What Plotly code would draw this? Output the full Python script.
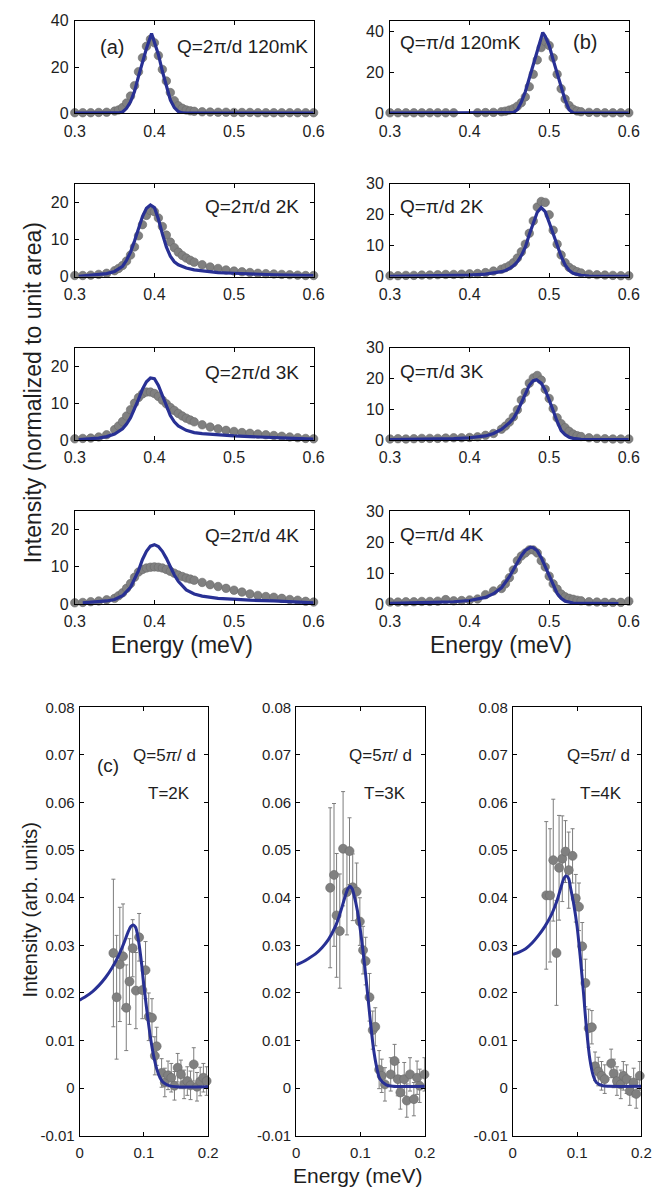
import plotly.graph_objects as go

W, H = 663, 1197
FONT = "Liberation Sans, Arial, Helvetica, sans-serif"
TXT = "#1e1e1e"
GRAY = "rgb(128,128,128)"
BLUE = "rgb(40,48,148)"

# ---------------- top panels (a) / (b) : data ----------------
E_A = [0.30, 0.31, 0.32, 0.33, 0.34, 0.35, 0.355, 0.36, 0.365, 0.37,
       0.375, 0.38, 0.385, 0.39, 0.395, 0.40, 0.405, 0.41, 0.415, 0.42,
       0.425, 0.43, 0.435, 0.44, 0.445, 0.45, 0.46, 0.47, 0.48, 0.49,
       0.50, 0.51, 0.52, 0.53, 0.54, 0.55, 0.56, 0.57, 0.58, 0.59, 0.60]
E_B = [0.30, 0.31, 0.32, 0.33, 0.34, 0.35, 0.36, 0.37, 0.38, 0.39,
       0.40, 0.41, 0.42, 0.43, 0.44, 0.445, 0.45, 0.455, 0.46, 0.465,
       0.47, 0.475, 0.48, 0.485, 0.49, 0.495, 0.50, 0.505, 0.51, 0.515,
       0.52, 0.525, 0.53, 0.535, 0.54, 0.55, 0.56, 0.57, 0.58, 0.59, 0.60]

PTS_A1 = [0.3, 0.3, 0.3, 0.4, 0.5, 1.0, 1.5, 2.5, 4.5, 7.5,
          12, 18, 24, 29, 32, 30.5, 25, 19, 14, 9,
          5.5, 3.3, 2.2, 1.5, 1.1, 0.9, 0.7, 0.6, 0.5, 0.5,
          0.4, 0.4, 0.4, 0.3, 0.3, 0.3, 0.3, 0.3, 0.3, 0.3, 0.3]
PTS_A2 = [0.3, 0.3, 0.4, 0.6, 0.9, 1.6, 2.2, 3.0, 4.2, 5.8,
          8.0, 11, 14, 16.5, 17.8, 17.5, 15.8, 13.5, 11.2, 9.3,
          7.8, 6.6, 5.7, 5.0, 4.4, 3.9, 3.2, 2.6, 2.2, 1.8,
          1.5, 1.3, 1.1, 0.9, 0.8, 0.7, 0.6, 0.5, 0.4, 0.3, 0.3]
PTS_A3 = [0.3, 0.4, 0.5, 0.8, 1.4, 2.8, 3.8, 5.0, 6.5, 8.2,
          10, 11.5, 12.5, 13, 13, 12.6, 11.8, 10.8, 9.8, 8.8,
          8.0, 7.2, 6.5, 5.9, 5.4, 4.9, 4.1, 3.5, 3.0, 2.6,
          2.3, 2.0, 1.8, 1.6, 1.4, 1.2, 1.0, 0.8, 0.6, 0.4, 0.3]
PTS_A4 = [0.3, 0.4, 0.6, 0.8, 1.1, 1.5, 2.2, 3.0, 4.2, 5.5,
          7.2, 8.6, 9.3, 9.7, 9.9, 10, 9.9, 9.7, 9.3, 8.8,
          8.3, 7.8, 7.4, 7.0, 6.7, 6.4, 5.8, 5.2, 4.7, 4.2,
          3.7, 3.2, 2.7, 2.3, 2.0, 1.8, 1.5, 1.2, 1.0, 0.7, 0.5]
PTS_B1 = [0.3, 0.3, 0.3, 0.3, 0.3, 0.3, 0.3, 0.3, 0.3, None,
          None, 0.3, 0.4, 0.5, 0.8, 1.1, 1.6, 2.3, 3.5, 5.2,
          8, 13, 19, 26, 32, 35, 33, 27, 19, 12,
          7, 3.8, 2.0, 1.2, 0.8, 0.5, 0.4, 0.3, 0.3, 0.3, 0.3]
PTS_B2 = [0.3, 0.3, 0.4, 0.4, 0.5, 0.5, 0.6, 0.7, 0.7, 0.8,
          0.9, 1.0, 1.3, 1.8, 2.4, 2.9, 3.5, 4.5, 6.0, 8.0,
          10.5, 14, 18, 22.5, 24.3, 24, 20, 15, 10.5, 7,
          4.5, 3.0, 2.2, 1.6, 1.2, 0.8, 0.6, 0.5, 0.4, 0.3, 0.3]
PTS_B3 = [0.3, 0.4, 0.3, 0.4, 0.5, 0.5, 0.5, 0.6, 0.7, 0.7,
          0.8, 1.0, 1.5, 2.1, 3.5, 4.5, 5.8, 7.5, 9.8, 13,
          15.5, 18.5, 20.2, 21, 19.5, 16.5, 13.5, 10.2, 7.2, 5.3,
          4.0, 2.8, 1.9, 1.4, 1.1, 0.7, 0.5, 0.4, 0.3, 0.3, 0.3]
PTS_B4 = [0.6, 0.6, 0.7, 0.7, 0.8, 0.8, 0.9, 1.4, 1.0, 1.1,
          1.3, 1.6, 3.0, 4.2, 5.0, 6.5, 8.5, 11, 14, 15.5,
          16.5, 17.5, 17.5, 16.5, 14, 12, 9, 6.5, 4.8, 3.2,
          2.3, 1.8, 1.5, 1.2, 1.0, 0.7, 0.6, 0.5, 0.5, 0.5, 0.9]

LINE_A1_E = [0.30, 0.35, 0.355, 0.36, 0.365, 0.37, 0.375, 0.38, 0.385, 0.39, 0.3964,
             0.40, 0.405, 0.41, 0.415, 0.42, 0.425, 0.43, 0.435, 0.44, 0.60]
LINE_A1_I = [0.1, 0.1, 0.2, 0.6, 2.2, 5.0, 9.5, 16, 22.5, 28, 34.5,
             31, 25.5, 18.2, 11.5, 5.8, 2.5, 0.8, 0.2, 0.1, 0.1]
LINE_A2_E = [0.305, 0.31, 0.32, 0.33, 0.34, 0.35, 0.36, 0.365, 0.37, 0.375, 0.38, 0.385, 0.39,
             0.395, 0.40, 0.405, 0.41, 0.415, 0.42, 0.425, 0.43, 0.44, 0.45, 0.46, 0.48,
             0.50, 0.52, 0.55, 0.60]
LINE_A2_I = [0.1, 0.2, 0.3, 0.5, 0.8, 1.4, 2.8, 4.4, 6.6, 9.6, 13, 16.2, 18.4,
             19.3, 18.6, 15.5, 11.5, 8.0, 5.5, 4.0, 3.2, 2.3, 1.8, 1.5, 1.1,
             0.9, 0.7, 0.5, 0.3]
LINE_A3_E = [0.305, 0.32, 0.33, 0.34, 0.35, 0.36, 0.365, 0.37, 0.375, 0.38, 0.385, 0.39, 0.395,
             0.40, 0.405, 0.41, 0.415, 0.42, 0.425, 0.43, 0.44, 0.45, 0.46, 0.48, 0.50,
             0.52, 0.55, 0.58, 0.60]
LINE_A3_I = [0.1, 0.3, 0.5, 0.9, 1.6, 3.0, 4.3, 6.0, 8.3, 11, 13.8, 15.8, 16.8,
             16.6, 14.8, 12, 9.0, 6.6, 4.9, 3.8, 2.6, 2.0, 1.7, 1.3, 1.1,
             0.9, 0.7, 0.4, 0.2]
LINE_A4_E = [0.31, 0.32, 0.33, 0.34, 0.35, 0.36, 0.37, 0.375, 0.38, 0.385, 0.39, 0.395, 0.40,
             0.405, 0.41, 0.415, 0.42, 0.425, 0.43, 0.44, 0.45, 0.46, 0.48, 0.50, 0.52,
             0.55, 0.58, 0.60]
LINE_A4_I = [0.3, 0.4, 0.6, 0.8, 1.2, 2.2, 4.5, 6.8, 9.0, 12, 14.2, 15.6, 16,
             15.5, 14.2, 12.3, 10, 7.8, 6.1, 3.8, 2.7, 2.1, 1.5, 1.2, 1.0,
             0.8, 0.5, 0.3]
LINE_B1_E = [0.30, 0.45, 0.455, 0.46, 0.465, 0.47, 0.475, 0.48, 0.485, 0.4919,
             0.495, 0.50, 0.505, 0.51, 0.515, 0.52, 0.525, 0.53, 0.54, 0.60]
LINE_B1_I = [0.1, 0.1, 0.4, 1.8, 5.5, 10.5, 17, 24.5, 31, 39.3,
             37.5, 33, 26, 19.5, 12.5, 6.5, 1.8, 0.3, 0.1, 0.1]
LINE_B2_E = [0.30, 0.35, 0.38, 0.40, 0.42, 0.43, 0.44, 0.445, 0.45, 0.455, 0.46, 0.465, 0.47,
             0.475, 0.48, 0.485, 0.49, 0.495, 0.50, 0.505, 0.51, 0.515, 0.52, 0.525, 0.53,
             0.54, 0.55, 0.60]
LINE_B2_I = [0.1, 0.2, 0.3, 0.5, 0.8, 1.1, 1.6, 2.0, 2.6, 3.5, 4.8, 6.8, 9.5,
             13.6, 17.5, 20.8, 22.3, 21, 17.5, 13.8, 10, 6.6, 3.8, 2.0, 1.1,
             0.4, 0.2, 0.1]
LINE_B3_E = [0.30, 0.35, 0.38, 0.40, 0.42, 0.43, 0.44, 0.45, 0.455, 0.46, 0.465, 0.47, 0.475,
             0.48, 0.484, 0.49, 0.495, 0.50, 0.505, 0.51, 0.515, 0.52, 0.525, 0.53, 0.54, 0.60]
LINE_B3_I = [0.1, 0.2, 0.4, 0.7, 1.3, 2.1, 3.4, 5.6, 7.0, 9.2, 12, 15.2, 17.8,
             19.3, 19.6, 18.5, 16.2, 13, 9.3, 6.0, 3.0, 1.7, 0.9, 0.5, 0.2, 0.1]
LINE_B4_E = [0.30, 0.35, 0.38, 0.40, 0.41, 0.42, 0.43, 0.44, 0.45, 0.455, 0.46, 0.465, 0.47,
             0.4765, 0.48, 0.485, 0.49, 0.495, 0.50, 0.505, 0.51, 0.515, 0.52, 0.53, 0.55, 0.587]
LINE_B4_I = [0.2, 0.4, 0.7, 1.1, 1.5, 2.1, 3.3, 5.2, 8.8, 11, 13.5, 15.6, 17.3,
             18.4, 18.2, 17.2, 15, 12, 8.8, 5.8, 3.4, 1.8, 0.9, 0.3, 0.15, 0.1]

LABELS_TOP = ["Q=2π/d 120mK", "Q=π/d 120mK", "Q=2π/d 2K", "Q=π/d 2K",
              "Q=2π/d 3K", "Q=π/d 3K", "Q=2π/d 4K", "Q=π/d 4K"]
X_TICKS_TOP = [0.3, 0.4, 0.5, 0.6]
X_TICKTEXT_TOP = ["0.3", "0.4", "0.5", "0.6"]

# ---------------- bottom panels (c) : data ----------------
E_C1 = [0.0525, 0.0575, 0.0625, 0.0675, 0.0725, 0.0775, 0.0825, 0.0875, 0.0925, 0.0975,
        0.1025, 0.1075, 0.1125, 0.117, 0.1198, 0.1275, 0.1325, 0.1375, 0.1425, 0.1475,
        0.1525, 0.1575, 0.1625, 0.1675, 0.1725, 0.1775, 0.1825, 0.1875, 0.1925, 0.1975]
I_C1 = [0.0284, 0.0191, 0.0260, 0.0277, 0.0169, 0.0224, 0.0294, 0.0205, 0.0317, 0.0206,
        0.0248, 0.0150, 0.0148, 0.0068, 0.0088, 0.0032, 0.0012, 0.0027, 0.0022, 0.0005,
        0.0043, 0.0029, 0.0008, 0.0015, 0.0006, 0.0050, 0.0003, 0.0014, 0.0022, 0.0015]
ERR_C1 = [0.0155, 0.013, 0.012, 0.011, 0.009, 0.009, 0.006, 0.008, 0.005, 0.006,
          0.006, 0.005, 0.004, 0.004, 0.004, 0.003, 0.003, 0.003, 0.003, 0.003,
          0.003, 0.003, 0.003, 0.003, 0.003, 0.0035, 0.003, 0.003, 0.003, 0.003]
E_C2 = [0.0528, 0.0588, 0.0628, 0.0678, 0.0729, 0.0789, 0.0829, 0.0879, 0.094, 0.099,
        0.104, 0.108, 0.114, 0.119, 0.123, 0.129, 0.133, 0.138, 0.147, 0.153,
        0.158, 0.162, 0.168, 0.172, 0.177, 0.183, 0.188, 0.192, 0.1995]
I_C2 = [0.0421, 0.0448, 0.0363, 0.0330, 0.0503, 0.0412, 0.0498, 0.0422, 0.0413, 0.0350,
        0.0290, 0.0267, 0.0191, 0.0122, 0.0129, 0.0039, 0.0026, 0.0008, 0.0029, 0.0057,
        0.0019, -0.0009, 0.0019, -0.0026, 0.0029, -0.0023, 0.0022, 0.0005, 0.0029]
ERR_C2 = [0.0168, 0.015, 0.013, 0.012, 0.012, 0.009, 0.007, 0.007, 0.006, 0.005,
          0.005, 0.005, 0.005, 0.004, 0.004, 0.004, 0.0035, 0.0035, 0.0035, 0.0035,
          0.0035, 0.0035, 0.0035, 0.0035, 0.0035, 0.0035, 0.0035, 0.0035, 0.0035]
E_C3 = [0.0521, 0.058, 0.063, 0.068, 0.072, 0.077, 0.082, 0.087, 0.093, 0.098,
        0.103, 0.108, 0.113, 0.118, 0.123, 0.128, 0.133, 0.138, 0.143, 0.153,
        0.157, 0.162, 0.168, 0.172, 0.177, 0.182, 0.188, 0.192, 0.1975]
I_C3 = [0.0405, 0.0405, 0.0479, 0.0284, 0.0463, 0.0482, 0.0497, 0.0458, 0.0488, 0.0399,
        0.0381, 0.0298, 0.0221, 0.0126, 0.0128, 0.0046, 0.0035, 0.0026, 0.0019, 0.0052,
        0.0031, 0.0015, 0.0008, 0.0026, 0.0019, -0.0006, 0.0012, -0.0012, 0.0026]
ERR_C3 = [0.0155, 0.014, 0.0128, 0.011, 0.011, 0.009, 0.0065, 0.008, 0.0057, 0.005,
          0.005, 0.005, 0.005, 0.004, 0.0035, 0.003, 0.003, 0.003, 0.003, 0.003,
          0.003, 0.003, 0.003, 0.003, 0.003, 0.003, 0.003, 0.003, 0.003]

FIT_C_E = [0.0, 0.01, 0.02, 0.03, 0.04, 0.05, 0.06, 0.065, 0.07, 0.075, 0.08, 0.0835,
           0.087, 0.09, 0.095, 0.10, 0.105, 0.11, 0.115, 0.12, 0.125, 0.13, 0.14, 0.15, 0.20]
FIT_C1 = [0.0185, 0.0193, 0.0203, 0.0216, 0.0232, 0.0252, 0.0277, 0.0292, 0.0309, 0.0327,
          0.0340, 0.0343, 0.0338, 0.0322, 0.0277, 0.0215, 0.0158, 0.0108, 0.0068, 0.0040,
          0.0022, 0.0012, 0.0005, 0.0003, 0.0003]
FIT_C2 = [0.0259, 0.0265, 0.0273, 0.0282, 0.0295, 0.0312, 0.0337, 0.0354, 0.0375, 0.0398,
          0.0418, 0.0424, 0.0419, 0.0405, 0.0374, 0.0330, 0.0275, 0.0212, 0.0145, 0.0085,
          0.0045, 0.0020, 0.0007, 0.0004, 0.0004]
FIT_C3 = [0.0281, 0.0286, 0.0293, 0.0305, 0.0321, 0.0340, 0.0364, 0.0380, 0.0399, 0.0422,
          0.0442, 0.0446, 0.0440, 0.0420, 0.0385, 0.0340, 0.0275, 0.0200, 0.0120, 0.0060,
          0.0027, 0.0012, 0.0005, 0.0004, 0.0004]
T_LABELS = ["T=2K", "T=3K", "T=4K"]
Y_TICKS_C = [-0.01, 0, 0.01, 0.02, 0.03, 0.04, 0.05, 0.06, 0.07, 0.08]
Y_TICKTEXT_C = ["-0.01", "0", "0.01", "0.02", "0.03", "0.04", "0.05", "0.06", "0.07", "0.08"]
X_TICKS_C = [0, 0.1, 0.2]
X_TICKTEXT_C = ["0", "0.1", "0.2"]


# ---------------- layout helpers ----------------
def xdom(a, b):
    return [a / W, b / W]


def ydom(t, b):
    return [1 - b / H, 1 - t / H]


def px_x(v):
    return v / W


def px_y(v):
    return 1 - v / H


fig = go.Figure()
layout = {}
annotations = []


def note(text, x, y, size, xanchor="center", angle=0):
    annotations.append(dict(text=text, x=px_x(x), y=px_y(y), xref="paper", yref="paper",
                            xanchor=xanchor, yanchor="middle", showarrow=False,
                            textangle=angle, font=dict(family=FONT, size=size, color=TXT)))


def axis_style(tickfont_size, standoff):
    return dict(showline=True, linecolor="black", linewidth=1, mirror="ticks",
                ticks="inside", ticklen=4, tickwidth=1, tickcolor="black",
                showgrid=False, zeroline=False, ticklabelstandoff=standoff,
                tickfont=dict(family=FONT, size=tickfont_size, color=TXT))


COL_X = [(66, 313), (392, 639)]
ROW_Y = [(12, 106), (177.5, 271.7), (344, 437.5), (510, 604)]

top = [
    (E_A, PTS_A1, LINE_A1_E, LINE_A1_I, [0, 40], [0, 20, 40]),
    (E_B, PTS_B1, LINE_B1_E, LINE_B1_I, [0, 45], [0, 20, 40]),
    (E_A, PTS_A2, LINE_A2_E, LINE_A2_I, [0, 25], [0, 10, 20]),
    (E_B, PTS_B2, LINE_B2_E, LINE_B2_I, [0, 30], [0, 10, 20, 30]),
    (E_A, PTS_A3, LINE_A3_E, LINE_A3_I, [0, 25], [0, 10, 20]),
    (E_B, PTS_B3, LINE_B3_E, LINE_B3_I, [0, 30], [0, 10, 20, 30]),
    (E_A, PTS_A4, LINE_A4_E, LINE_A4_I, [0, 25], [0, 10, 20]),
    (E_B, PTS_B4, LINE_B4_E, LINE_B4_I, [0, 30], [0, 10, 20, 30]),
]
label_pos = [(309, 38), (400, 34), (300, 201), (400, 201),
             (300, 369), (400, 368), (300, 535), (400, 534)]

n = 0
for k, (ex, pts, le, li, yr, yt) in enumerate(top):
    n += 1
    row, col = divmod(k, 2)
    xs = "x" if n == 1 else f"x{n}"
    ys = "y" if n == 1 else f"y{n}"
    xk = "xaxis" if n == 1 else f"xaxis{n}"
    yk = "yaxis" if n == 1 else f"yaxis{n}"
    fig.add_trace(go.Scatter(x=ex, y=pts, mode="markers", xaxis=xs, yaxis=ys,
                             cliponaxis=False, showlegend=False,
                             marker=dict(size=8.5, color=GRAY,
                                         line=dict(width=0.6, color="rgb(105,105,105)"))))
    fig.add_trace(go.Scatter(x=le, y=li, mode="lines", xaxis=xs, yaxis=ys,
                             showlegend=False, line=dict(color=BLUE, width=3.2)))
    ax = axis_style(16, 3)
    ax.update(domain=xdom(*COL_X[col]), range=[0.3, 0.6], anchor=ys,
              tickvals=X_TICKS_TOP, ticktext=X_TICKTEXT_TOP)
    ay = axis_style(16, 2)
    ay.update(domain=ydom(*ROW_Y[row]), range=yr, anchor=xs,
              tickvals=yt, ticktext=[str(v) for v in yt])
    layout[xk] = ax
    layout[yk] = ay
    lx, ly = label_pos[k]
    note(LABELS_TOP[k], lx, ly, 19, xanchor="right" if col == 0 else "left")

note("(a)", 104, 39, 20)
note("(b)", 594, 34, 20)
for cx in (177, 507):
    note("Energy (meV)", cx, 646, 23)
note("Intensity (normalized to unit area)", 23, 390, 23, angle=-90)

# ---------------- bottom panels ----------------
C_X = [(71, 204), (295, 428), (519, 652)]
C_Y = (709, 1144)
bottom = [(E_C1, I_C1, ERR_C1, FIT_C1), (E_C2, I_C2, ERR_C2, FIT_C2), (E_C3, I_C3, ERR_C3, FIT_C3)]
q_right = [193, 417, 642]
t_center = [163, 387, 610]
for j, (ex, iy, er, fit) in enumerate(bottom):
    n += 1
    xs, ys = f"x{n}", f"y{n}"
    fig.add_trace(go.Scatter(x=ex, y=iy, mode="markers", xaxis=xs, yaxis=ys,
                             showlegend=False, cliponaxis=False,
                             error_y=dict(type="data", array=er, visible=True,
                                          color="rgb(125,125,125)", thickness=1, width=2),
                             marker=dict(size=9, color=GRAY,
                                         line=dict(width=0.6, color="rgb(105,105,105)"))))
    fig.add_trace(go.Scatter(x=FIT_C_E, y=fit, mode="lines", xaxis=xs, yaxis=ys,
                             showlegend=False, line=dict(color=BLUE, width=3, shape="spline",
                                                         smoothing=0.8)))
    ax = axis_style(15, 3)
    ax.update(domain=xdom(*C_X[j]), range=[0, 0.2], anchor=ys,
              tickvals=X_TICKS_C, ticktext=X_TICKTEXT_C)
    ay = axis_style(15, 1)
    ay.update(domain=ydom(*C_Y), range=[-0.01, 0.08], anchor=xs,
              tickvals=Y_TICKS_C, ticktext=Y_TICKTEXT_C)
    layout[f"xaxis{n}"] = ax
    layout[f"yaxis{n}"] = ay
    note("Q=5<i>π</i>/ d", q_right[j], 758, 17, xanchor="right")
    note(T_LABELS[j], t_center[j], 796, 17)

note("(c)", 100, 768, 19)
note("Energy (meV)", 359, 1184, 21)
note("Intensity (arb. units)", 20, 914, 20, angle=-90)

fig.update_layout(width=W, height=H, margin=dict(l=0, r=0, t=0, b=0),
                  paper_bgcolor="white", plot_bgcolor="white",
                  annotations=annotations, showlegend=False, **layout)

fig.write_html("out.html")
